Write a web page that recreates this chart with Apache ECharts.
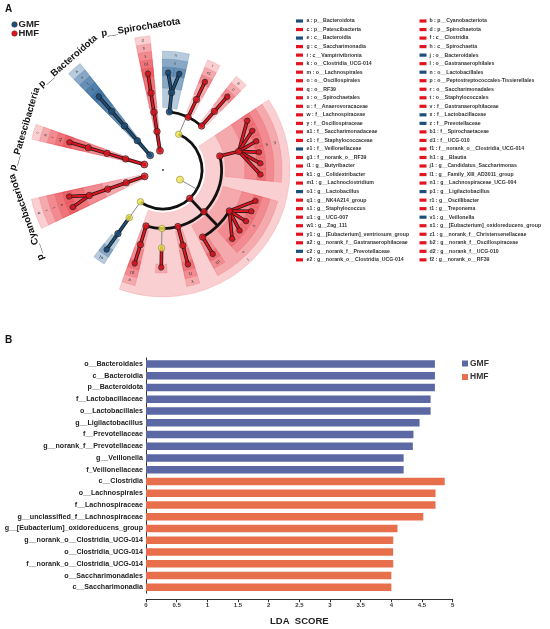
<!DOCTYPE html>
<html><head><meta charset="utf-8">
<script src="https://cdn.jsdelivr.net/npm/echarts/dist/echarts.min.js"></script>
<style>html,body{margin:0;padding:0;background:#fff}#c{width:550px;height:629px}</style>
</head><body><div id="c"></div>
<script>
// ---------------- Panel B data (LDA scores) ----------------
const ldaTaxa = [
  'o__Bacteroidales','c__Bacteroidia','p__Bacteroidota','f__Lactobacillaceae','o__Lactobacillales',
  'g__Ligilactobacillus','f__Prevotellaceae','g__norank_f__Prevotellaceae','g__Veillonella','f_Veillonellaceae',
  'c__Clostridia','o__Lachnospirales','f__Lachnospiraceae','g__unclassified_f__Lachnospiraceae',
  'g__[Eubacterium]_oxidoreducens_group','g__norank_o__Clostridia_UCG-014','o__Clostridia_UCG-014',
  'f__norank_o__Clostridia_UCG-014','o__Saccharimonadales','c__Saccharimonadia'
];
const ldaScores = [4.71,4.71,4.71,4.64,4.64,4.46,4.36,4.35,4.20,4.20,
                   4.87,4.72,4.72,4.52,4.10,4.03,4.03,4.03,4.00,4.00];
const ldaGroups = ['GMF','GMF','GMF','GMF','GMF','GMF','GMF','GMF','GMF','GMF',
                   'HMF','HMF','HMF','HMF','HMF','HMF','HMF','HMF','HMF','HMF'];

// ---------------- Panel A data (cladogram) ----------------
const cladeCodes = ['a','b','c','d','e','f','g','h','i','j','k','l','m','n','o','p','q','r','s','t','u','v','w','x','y','z',
  'a1','b1','c1','d1','e1','f1','g1','h1','i1','j1','k1','l1','m1','n1','o1','p1','q1','r1','s1','t1','u1','v1','w1','x1','y1','z1',
  'a2','b2','c2','d2','e2','f2'];
const cladeTaxa = ['p__Bacteroidota','p__Cyanobacteriota','p__Patescibacteria','p__Spirochaetota','c__Bacteroidia','c__Clostridia',
  'c__Saccharimonadia','c__Spirochaetia','c__Vampirivibrionia','o__Bacteroidales','o__Clostridia_UCG-014','o__Gastranaerophilales',
  'o__Lachnospirales','o__Lactobacillales','o__Oscillospirales','o__Peptostreptococcales-Tissierellales','o__RF39',
  'o__Saccharimonadales','o__Spirochaetales','o__Staphylococcales','f__Anaerovoracaceae','f__Gastranaerophilaceae',
  'f__Lachnospiraceae','f__Lactobacillaceae','f__Oscillospiraceae','f__Prevotellaceae','f__Saccharimonadaceae',
  'f__Spirochaetaceae','f__Staphylococcaceae','f__UCG-010','f__Veillonellaceae','f__norank_o__Clostridia_UCG-014',
  'f__norank_o__RF39','g__Blautia','g__Butyribacter','g__Candidatus_Saccharimonas','g__Colidextribacter',
  'g__Family_XIII_AD3011_group','g__Lachnoclostridium','g__Lachnospiraceae_UCG-004','g__Lactobacillus',
  'g__Ligilactobacillus','g__NK4A214_group','g__Oscillibacter','g__Staphylococcus','g__Treponema','g__UCG-007',
  'g__Veillonella','g__Zag_111','g__[Eubacterium]_oxidoreducens_group','g__[Eubacterium]_ventriosum_group',
  'g__norank_f__Christensenellaceae','g__norank_f__Gastranaerophilaceae','g__norank_f__Oscillospiraceae',
  'g__norank_f__Prevotellaceae','g__norank_f__UCG-010','g__norank_o__Clostridia_UCG-014','g__norank_o__RF39'];
const cladeGroups = ['GMF','HMF','HMF','HMF','GMF','HMF','HMF','HMF','HMF','GMF','HMF','HMF','HMF','GMF','HMF','HMF','HMF',
  'HMF','HMF','HMF','HMF','HMF','HMF','GMF','HMF','GMF','HMF','HMF','HMF','HMF','GMF','HMF','HMF','HMF','HMF','HMF','HMF',
  'HMF','HMF','HMF','GMF','GMF','HMF','HMF','HMF','HMF','HMF','GMF','HMF','HMF','HMF','HMF','HMF','HMF','GMF','HMF','HMF','HMF'];
// taxonomic lineages of the drawn leaves, in clockwise order
const lineages = [
  'p__Firmicutes|c__Bacilli|o__Lactobacillales|f__Lactobacillaceae|g__Lactobacillus',
  'p__Firmicutes|c__Bacilli|o__Lactobacillales|f__Lactobacillaceae|g__Ligilactobacillus',
  'p__Firmicutes|c__Bacilli|o__Staphylococcales|f__Staphylococcaceae|g__Staphylococcus',
  'p__Firmicutes|c__Bacilli|o__Peptostreptococcales-Tissierellales|f__Anaerovoracaceae|g__Family_XIII_AD3011_group',
  'p__Firmicutes|c__Clostridia|o__Lachnospirales|f__Lachnospiraceae|g__Blautia',
  'p__Firmicutes|c__Clostridia|o__Lachnospirales|f__Lachnospiraceae|g__Butyribacter',
  'p__Firmicutes|c__Clostridia|o__Lachnospirales|f__Lachnospiraceae|g__Lachnoclostridium',
  'p__Firmicutes|c__Clostridia|o__Lachnospirales|f__Lachnospiraceae|g__Lachnospiraceae_UCG-004',
  'p__Firmicutes|c__Clostridia|o__Lachnospirales|f__Lachnospiraceae|g__[Eubacterium]_oxidoreducens_group',
  'p__Firmicutes|c__Clostridia|o__Lachnospirales|f__Lachnospiraceae|g__[Eubacterium]_ventriosum_group',
  'p__Firmicutes|c__Clostridia|o__Oscillospirales|f__Oscillospiraceae|g__Colidextribacter',
  'p__Firmicutes|c__Clostridia|o__Oscillospirales|f__Oscillospiraceae|g__NK4A214_group',
  'p__Firmicutes|c__Clostridia|o__Oscillospirales|f__Oscillospiraceae|g__Oscillibacter',
  'p__Firmicutes|c__Clostridia|o__Oscillospirales|f__Oscillospiraceae|g__UCG-007',
  'p__Firmicutes|c__Clostridia|o__Oscillospirales|f__Oscillospiraceae|g__norank_f__Oscillospiraceae',
  'p__Firmicutes|c__Clostridia|o__Oscillospirales|f__UCG-010|g__norank_f__UCG-010',
  'p__Firmicutes|c__Clostridia|o__Clostridia_UCG-014|f__norank_o__Clostridia_UCG-014|g__norank_o__Clostridia_UCG-014',
  'p__Firmicutes|c__Clostridia|o__Christensenellales|f__Christensenellaceae|g__norank_f__Christensenellaceae',
  'p__Firmicutes|c__Clostridia|o__RF39|f__norank_o__RF39|g__norank_o__RF39',
  'p__Firmicutes|c__Negativicutes|o__Veillonellales-Selenomonadales|f__Veillonellaceae|g__Veillonella',
  'p__Cyanobacteriota|c__Vampirivibrionia|o__Gastranaerophilales|f__Gastranaerophilaceae|g__norank_f__Gastranaerophilaceae',
  'p__Cyanobacteriota|c__Vampirivibrionia|o__Gastranaerophilales|f__Gastranaerophilaceae|g__Zag_111',
  'p__Patescibacteria|c__Saccharimonadia|o__Saccharimonadales|f__Saccharimonadaceae|g__Candidatus_Saccharimonas',
  'p__Bacteroidota|c__Bacteroidia|o__Bacteroidales|f__Prevotellaceae|g__norank_f__Prevotellaceae',
  'p__Spirochaetota|c__Spirochaetia|o__Spirochaetales|f__Spirochaetaceae|g__Treponema'
];
const groupNames = ['GMF','HMF'];

// ---------------- styling / layout constants ----------------
const FONT = '"Liberation Sans", Arial, sans-serif';
const NODE_COL = {GMF:'#1d4f7c', HMF:'#e3141f', none:'#f0e64a'};
const SECT_COL = {GMF:'rgba(35,92,150,0.32)', HMF:'rgba(228,26,36,0.21)'};
const BAR_COL = {GMF:'#5b68a3', HMF:'#e86f4b'};
const GAP = [4.9, 2.8, 2.4, 2.2, 1.0]; // angular slot gap by number of shared taxonomic levels
const WRAP_GAP = 1.8;                  // gap closing the circle
const START_BEARING = 3;               // degrees clockwise from top of the first leaf
const OUTER0 = 6.92, BAND = 0.41;

// ---------------- build tree ----------------
const sig = {};
cladeTaxa.forEach((t,i)=>{ sig[t] = {g: cladeGroups[i], code: cladeCodes[i]}; });
const root = {name:'root', level:0, children:[]};
const byPath = {};
const leaves = [];
lineages.forEach(l=>{
  const parts = l.split('|'); let cur = root, path = '';
  parts.forEach((p,i)=>{
    path += (i ? '|' : '') + p;
    if(!byPath[path]){ const n = {name:p, level:i+1, children:[], path:path}; byPath[path]=n; cur.children.push(n); }
    cur = byPath[path];
  });
  leaves.push(cur);
});
function shared(a,b){ const x=a.path.split('|'), y=b.path.split('|'); let k=0; while(k<x.length && x[k]===y[k]) k++; return k; }
let pos = 0;
leaves.forEach((lf,i)=>{ if(i>0) pos += GAP[shared(leaves[i-1], lf)]; lf.slot = pos; });
const totalSlots = pos + WRAP_GAP;
function layout(n){
  if(!n.children.length){ n.minS = n.maxS = n.slot; return; }
  n.children.forEach(layout);
  const cs = n.children.map(c=>c.slot);
  n.slot = (Math.min(...cs) + Math.max(...cs))/2;
  n.minS = Math.min(...n.children.map(c=>c.minS));
  n.maxS = Math.max(...n.children.map(c=>c.maxS));
}
layout(root);
const allNodes = [];
(function walk(n){ if(n.level>0) allNodes.push(n); n.children.forEach(walk); })(root);

// sectors
const sectorData = [];
const letterData = [];
allNodes.forEach(n=>{
  const s = sig[n.name]; if(!s) return;
  const outer = OUTER0 - (n.level-1)*BAND;
  const inner = Math.min(n.level + 0.2, outer - 0.45);
  sectorData.push([inner, outer, n.minS - 0.5, n.maxS + 0.5, groupNames.indexOf(s.g)]);
  letterData.push({value:[outer - 0.2, n.slot], code:s.code});
});
// edges
const edgeData = [];
function edgeStyle(ch){ const s = sig[ch.name]; return s ? (s.g==='GMF' ? 2 : 1) : 0; }
(function addEdges(n){
  if(!n.children.length) return;
  if(n.level>0){
    if(n.children.length===1 || n.level===4){
      n.children.forEach(ch=>edgeData.push([0, n.level, n.slot, ch.level, ch.slot, edgeStyle(ch)]));
    } else {
      const ss = n.children.map(c=>c.slot);
      edgeData.push([1, n.level+1, Math.min(...ss), n.level+1, Math.max(...ss), 3]);
      edgeData.push([0, n.level, n.slot, n.level+1, n.slot, sig[n.name] ? 3 : 0]);
    }
  }
  n.children.forEach(addEdges);
})(root);
// nodes
const nodeData = allNodes.map(n=>{
  const s = sig[n.name];
  return {value:[n.level, n.slot], symbolSize: n.level===5 ? 5.5 : (n.level===1 ? 7 : 6.5),
    itemStyle:{color: s ? NODE_COL[s.g] : NODE_COL.none, borderColor: s ? '#1a1a1a' : '#8a8a50', borderWidth: 0.8}};
});
nodeData.push({value:[0,0], symbolSize:2, itemStyle:{color:'#111', borderWidth:0}});
// phylum labels
const phylumData = root.children.filter(n=>sig[n.name]).map(n=>({value:[7.4, n.slot], label:n.name}));

// ---------------- helpers for polar custom series ----------------
function geo(api, v, s){
  const c = api.coord([0,0]), p = api.coord([v, s]);
  return {c:c, p:p, r:Math.hypot(p[0]-c[0], p[1]-c[1]), a:Math.atan2(p[1]-c[1], p[0]-c[0])};
}
function tangentRot(a){ return -(a + Math.PI/2); }

const chart = echarts.init(document.getElementById('c'), null, {renderer:'canvas'});

// graphic: panel letters, group key, legend of clades
const graphics = [
  {type:'text', x:5, y:4, style:{text:'A', font:'bold 10px ' + FONT, fill:'#111'}},
  {type:'text', x:5, y:335, style:{text:'B', font:'bold 10px ' + FONT, fill:'#111'}}
];
groupNames.forEach((g,i)=>{
  graphics.push({type:'circle', shape:{cx:14.5, cy:24.5 + i*9, r:2.8}, style:{fill:NODE_COL[g], stroke:'#222', lineWidth:0.4}});
  graphics.push({type:'text', x:18.5, y:24.5 + i*9, style:{text:g, font:'bold 9.5px ' + FONT, fill:'#222', verticalAlign:'middle', textVerticalAlign:'middle'}});
});
cladeCodes.forEach((code,i)=>{
  const col = i % 2, row = Math.floor(i/2);
  const y = 21 + row*8.53;
  graphics.push({type:'rect', shape:{x: col ? 419.5 : 296, y: y-1.6, width:7, height:3.2}, style:{fill: NODE_COL[cladeGroups[i]]}});
  graphics.push({type:'text', x: col ? 429.5 : 306.5, y: y,
    style:{text: code + ' : ' + cladeTaxa[i], font:'bold 5.2px ' + FONT, fill:'#333', verticalAlign:'middle', textVerticalAlign:'middle'}});
});

const option = {
  animation:false,
  textStyle:{fontFamily:FONT},
  polar:{center:[163,170], radius:156},
  angleAxis:{type:'value', min:0, max:totalSlots, startAngle:90 - START_BEARING, clockwise:true, show:false},
  radiusAxis:{type:'value', min:0, max:8, show:false},
  grid:{left:146, top:358, width:306.7, height:235.2, containLabel:false, outerBoundsMode:'none'},
  xAxis:{type:'value', min:0, max:5, interval:0.5, offset:6,
    axisLine:{show:true, lineStyle:{color:'#333', width:1}},
    axisTick:{show:true, length:3, lineStyle:{color:'#333'}},
    axisLabel:{fontSize:6, fontWeight:'bold', color:'#333', margin:3},
    splitLine:{show:false},
    name:'LDA  SCORE', nameLocation:'middle', nameGap:17,
    nameTextStyle:{fontSize:9.5, fontWeight:'bold', color:'#222'}},
  yAxis:{type:'category', data:ldaTaxa, inverse:true,
    axisLine:{show:true, lineStyle:{color:'#333', width:1}},
    axisTick:{show:false},
    axisLabel:{fontSize:7.1, fontWeight:'bold', color:'#222', margin:3}},
  legend:{data:groupNames, left:462, top:359, orient:'vertical', itemWidth:6, itemHeight:6, itemGap:4.5,
    icon:'rect', padding:0, textStyle:{fontSize:8.5, fontWeight:'bold', color:'#333', padding:[0,0,0,-3]}},
  graphic:graphics,
  series:[
    {type:'custom', coordinateSystem:'polar', silent:true, data:sectorData,
      renderItem:function(params, api){
        const g0 = geo(api, api.value(0), api.value(2));
        const g1 = geo(api, api.value(1), api.value(2));
        const g2 = geo(api, api.value(1), api.value(3));
        let a0 = g1.a, a1 = g2.a; if(a1 < a0) a1 += 2*Math.PI;
        const col = SECT_COL[groupNames[api.value(4)]];
        return {type:'sector', shape:{cx:g0.c[0], cy:g0.c[1], r0:g0.r, r:g1.r, startAngle:a0, endAngle:a1, clockwise:true},
          style:{fill:col, stroke:col, lineWidth:0.6}};
      }},
    {type:'custom', coordinateSystem:'polar', silent:true, data:edgeData,
      renderItem:function(params, api){
        const kind = api.value(0), st = api.value(5);
        const g1 = geo(api, api.value(1), api.value(2));
        const g2 = geo(api, api.value(3), api.value(4));
        if(kind === 1){
          let a0 = g1.a, a1 = g2.a; if(a1 < a0) a1 += 2*Math.PI;
          return {type:'arc', shape:{cx:g1.c[0], cy:g1.c[1], r:g1.r, startAngle:a0, endAngle:a1, clockwise:true},
            style:{stroke:'#111', lineWidth:2.8, fill:null}};
        }
        const sh = {x1:g1.p[0], y1:g1.p[1], x2:g2.p[0], y2:g2.p[1]};
        if(st === 0) return {type:'line', shape:sh, style:{stroke:'#6f6f6f', lineWidth:0.8}};
        if(st === 3) return {type:'line', shape:sh, style:{stroke:'#111', lineWidth:2.8}};
        return {type:'group', children:[
          {type:'line', shape:sh, style:{stroke:'#1a1a1a', lineWidth:3.6, lineCap:'round'}},
          {type:'line', shape:sh, style:{stroke: st === 2 ? NODE_COL.GMF : NODE_COL.HMF, lineWidth:2.0, lineCap:'round'}}
        ]};
      }},
    {type:'scatter', coordinateSystem:'polar', silent:true, symbol:'circle', data:nodeData},
    {type:'custom', coordinateSystem:'polar', silent:true, data:letterData.map(d=>d.value),
      renderItem:function(params, api){
        const g = geo(api, api.value(0), api.value(1));
        return {type:'text', x:g.p[0], y:g.p[1], rotation:tangentRot(g.a),
          style:{text:letterData[params.dataIndex].code, font:'4px ' + FONT, fill:'#333', align:'center', verticalAlign:'middle',
            textAlign:'center', textVerticalAlign:'middle'}};
      }},
    {type:'custom', coordinateSystem:'polar', silent:true, data:phylumData.map(d=>d.value),
      renderItem:function(params, api){
        const g = geo(api, api.value(0), api.value(1));
        return {type:'text', x:g.p[0], y:g.p[1], rotation:tangentRot(g.a),
          style:{text:phylumData[params.dataIndex].label, font:'bold 9.5px ' + FONT, fill:'#111', align:'center', verticalAlign:'middle',
            textAlign:'center', textVerticalAlign:'middle'}};
      }},
    {name:'GMF', type:'bar', stack:'lda', barWidth:7.5, itemStyle:{color:BAR_COL.GMF},
      data:ldaScores.map((v,i)=> ldaGroups[i]==='GMF' ? v : '-')},
    {name:'HMF', type:'bar', stack:'lda', barWidth:7.5, itemStyle:{color:BAR_COL.HMF},
      data:ldaScores.map((v,i)=> ldaGroups[i]==='HMF' ? v : '-')}
  ]
};
chart.setOption(option);
</script>
</body></html>
